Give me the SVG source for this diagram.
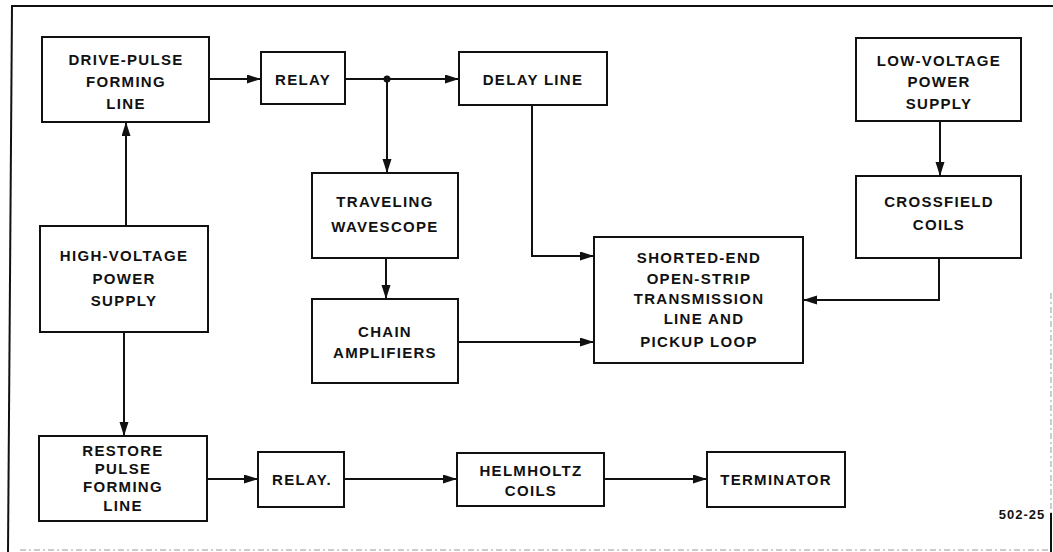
<svg xmlns="http://www.w3.org/2000/svg" width="1053" height="552" viewBox="0 0 1053 552">
<style>
.box{fill:#fff;stroke:#111;stroke-width:2}
.t{font-family:"Liberation Sans",Arial,sans-serif;font-weight:bold;font-size:15px;letter-spacing:1.3px;fill:#111;text-anchor:middle}
.c{fill:none;stroke:#111;stroke-width:2}
.frame{fill:none;stroke:#111;stroke-width:2}
.faint{fill:none;stroke:#999;stroke-width:1;stroke-dasharray:6 3 2 3}
</style>
<defs>
<marker id="ah" markerUnits="userSpaceOnUse" markerWidth="15" markerHeight="10" refX="14" refY="4.5" orient="auto">
<path d="M0,0 L14,4.5 L0,9 z" fill="#111"/>
</marker>
</defs>
<rect width="1053" height="552" fill="#fff"/>
<g id="frame">
<line class="frame" x1="11" y1="6" x2="1053" y2="6"/>
<line class="frame" x1="12" y1="6" x2="8" y2="552"/>
<line class="faint" x1="1051" y1="293" x2="1051" y2="513"/>
<line class="frame" x1="1051" y1="513" x2="1051" y2="552"/>
<line class="faint" x1="20" y1="550" x2="1050" y2="550"/>
</g>
<g id="connectors">
<line class="c" x1="209" y1="79" x2="261" y2="79" marker-end="url(#ah)"/>
<line class="c" x1="345" y1="79" x2="459" y2="79" marker-end="url(#ah)"/>
<circle cx="387" cy="79" r="3.5" fill="#111"/>
<line class="c" x1="387" y1="79" x2="387" y2="173" marker-end="url(#ah)"/>
<polyline class="c" points="532,105 532,256 594,256" marker-end="url(#ah)"/>
<line class="c" x1="386" y1="258" x2="386" y2="299" marker-end="url(#ah)"/>
<line class="c" x1="458" y1="342" x2="594" y2="342" marker-end="url(#ah)"/>
<line class="c" x1="940" y1="121" x2="940" y2="176" marker-end="url(#ah)"/>
<polyline class="c" points="939,258 939,300 803,300" marker-end="url(#ah)"/>
<line class="c" x1="126" y1="226" x2="126" y2="122" marker-end="url(#ah)"/>
<line class="c" x1="124" y1="332" x2="124" y2="436" marker-end="url(#ah)"/>
<line class="c" x1="207" y1="479" x2="258" y2="479" marker-end="url(#ah)"/>
<line class="c" x1="344" y1="479" x2="457" y2="479" marker-end="url(#ah)"/>
<line class="c" x1="604" y1="479" x2="707" y2="479" marker-end="url(#ah)"/>
</g>
<g id="drive-pulse">
<rect class="box" x="42" y="37" width="167" height="85"/>
<text class="t" x="126" y="65">DRIVE-PULSE</text>
<text class="t" x="126" y="87">FORMING</text>
<text class="t" x="126" y="109">LINE</text>
</g>
<g id="relay1">
<rect class="box" x="261" y="52" width="84" height="52"/>
<text class="t" x="303" y="85">RELAY</text>
</g>
<g id="delay-line">
<rect class="box" x="459" y="52" width="148" height="53"/>
<text class="t" x="533" y="85">DELAY LINE</text>
</g>
<g id="low-voltage">
<rect class="box" x="856" y="38" width="165" height="83"/>
<text class="t" x="939" y="66">LOW-VOLTAGE</text>
<text class="t" x="939" y="87">POWER</text>
<text class="t" x="939" y="109">SUPPLY</text>
</g>
<g id="crossfield">
<rect class="box" x="856" y="176" width="165" height="82"/>
<text class="t" x="939" y="207">CROSSFIELD</text>
<text class="t" x="939" y="230">COILS</text>
</g>
<g id="traveling">
<rect class="box" x="312" y="173" width="146" height="85"/>
<text class="t" x="385" y="207">TRAVELING</text>
<text class="t" x="385" y="232">WAVESCOPE</text>
</g>
<g id="high-voltage">
<rect class="box" x="40" y="226" width="168" height="106"/>
<text class="t" x="124" y="261">HIGH-VOLTAGE</text>
<text class="t" x="124" y="284">POWER</text>
<text class="t" x="124" y="306">SUPPLY</text>
</g>
<g id="chain">
<rect class="box" x="312" y="299" width="146" height="84"/>
<text class="t" x="385" y="337">CHAIN</text>
<text class="t" x="385" y="358">AMPLIFIERS</text>
</g>
<g id="shorted-end">
<rect class="box" x="594" y="237" width="209" height="126"/>
<text class="t" x="699" y="263">SHORTED-END</text>
<text class="t" x="699" y="284">OPEN-STRIP</text>
<text class="t" x="699" y="304">TRANSMISSION</text>
<text class="t" x="704" y="324">LINE AND</text>
<text class="t" x="699" y="347">PICKUP LOOP</text>
</g>
<g id="restore">
<rect class="box" x="39" y="436" width="168" height="85"/>
<text class="t" x="123" y="456">RESTORE</text>
<text class="t" x="123" y="474">PULSE</text>
<text class="t" x="123" y="492">FORMING</text>
<text class="t" x="123" y="511">LINE</text>
</g>
<g id="relay2">
<rect class="box" x="258" y="452" width="86" height="55"/>
<text class="t" x="302" y="485">RELAY.</text>
</g>
<g id="helmholtz">
<rect class="box" x="457" y="453" width="147" height="53"/>
<text class="t" x="531" y="476">HELMHOLTZ</text>
<text class="t" x="531" y="496">COILS</text>
</g>
<g id="terminator">
<rect class="box" x="707" y="452" width="138" height="55"/>
<text class="t" x="776" y="485">TERMINATOR</text>
</g>
<text class="t" x="1022" y="519" style="font-size:13px;letter-spacing:1px">502-25</text>
</svg>
